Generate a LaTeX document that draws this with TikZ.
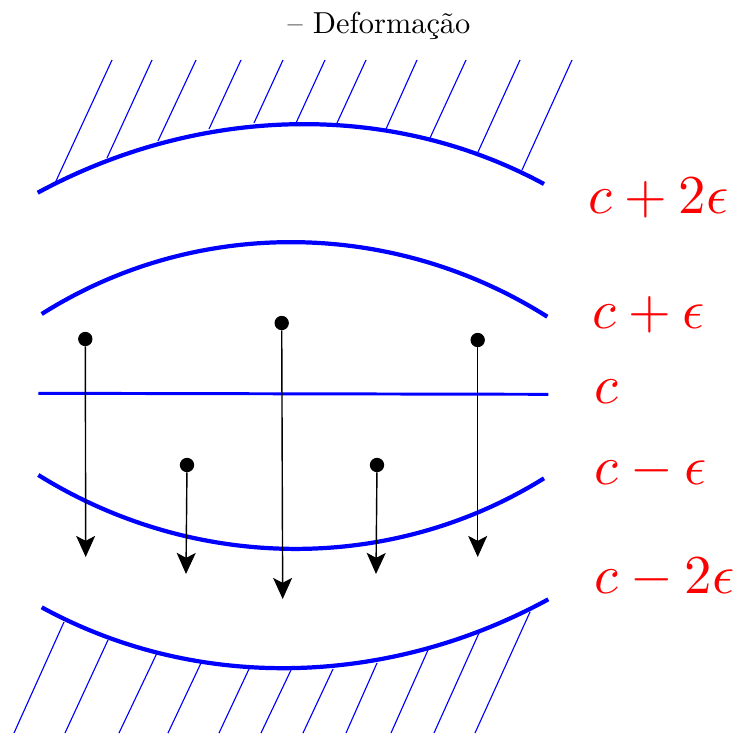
\documentclass[tikz,border=0pt]{standalone}
\usetikzlibrary{arrows.meta}
\begin{document}
\begin{tikzpicture}[
        x=0.025cm, y=-0.025cm,
        wall/.style={blue, line width=3pt},
        midline/.style={blue, line width=2.1pt},
        hatch/.style={blue, line width=0.8pt},
        particle/.style={circle, fill=black, inner sep=0pt, minimum size=10.2pt},
        flow/.style={-{Stealth[length=15pt, width=13.5pt, inset=3.5pt]}, line width=1pt, black},
        curvelabel/.style={anchor=base west, inner sep=0pt, text=red, scale=3.9}
    ]
    \useasboundingbox (0,0) rectangle (742,733);

    \node[anchor=base, scale=2.16] (title) at (379,33) {\textendash{} Deformação};

    % Upper wall with hatching
    \draw[wall] (37.7,192.7) .. controls (195.6,107.3) and (386.1,98.6) .. (544,184);
    \draw[hatch] (56,181) -- (112,60) (107,158) -- (152,60) (158,141) -- (196,60)
        (209,129) -- (241,60) (254,123) -- (283,60) (296,123) -- (325,60)
        (337,123) -- (366,60) (386,129) -- (417,60) (430,138) -- (466,60)
        (478,152) -- (520,60) (522,170) -- (572,60);

    % Level curves
    \draw[wall] (41.7,314) .. controls (196.1,216.4) and (392.9,219.1) .. (547.3,316.7);
    \draw[midline] (38.3,393.3) -- (548.3,394.3);
    \draw[wall] (38.3,475) .. controls (193.1,571.3) and (389.2,574.6) .. (544,478.3);

    % Lower wall with hatching
    \draw[wall] (41.7,607.3) .. controls (199.6,693.6) and (390.4,685.6) .. (548.3,599.3);
    \draw[hatch] (64,622) -- (14,733) (108,640) -- (65,733) (157,653) -- (119,733)
        (201,663) -- (168,733) (249,669) -- (219,733) (291,670) -- (261,733)
        (333,669) -- (303,733) (377,663) -- (346,733) (428,650) -- (391,733)
        (479,633) -- (434,733) (530,612) -- (475,733);

    % Labels
    \node[curvelabel] (lab2) at (587,213) {$c+2\epsilon$};
    \node[curvelabel] (lab1) at (591,328) {$c+\epsilon$};
    \node[curvelabel] (lab0) at (593,403) {$c$};
    \node[curvelabel] (labm1) at (593,484) {$c-\epsilon$};
    \node[curvelabel] (labm2) at (593,593) {$c-2\epsilon$};

    % Particles and displacements
    \node[particle] (p1) at (85.3,339) {};
    \node[particle] (p2) at (281.7,323) {};
    \node[particle] (p3) at (477.7,340) {};
    \node[particle] (p4) at (187,465) {};
    \node[particle] (p5) at (377,465) {};
    \coordinate (t1) at (85.7,557);
    \coordinate (t2) at (282.7,599);
    \coordinate (t3) at (477.7,557);
    \coordinate (t4) at (186,574);
    \coordinate (t5) at (376,574);
    \draw[flow] (p1) -- (t1);
    \draw[flow] (p2) -- (t2);
    \draw[flow] (p3) -- (t3);
    \draw[flow] (p4) -- (t4);
    \draw[flow] (p5) -- (t5);

\end{tikzpicture}
\end{document}
